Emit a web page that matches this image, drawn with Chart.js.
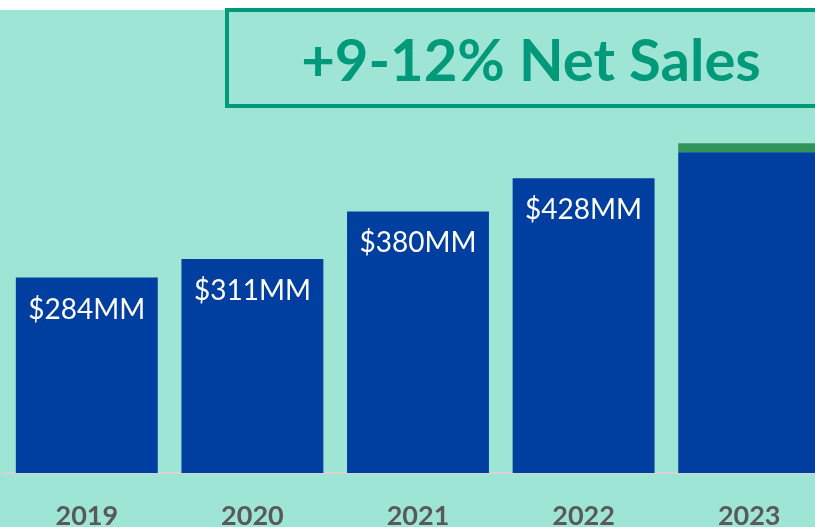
<!DOCTYPE html>
<html>
<head>
<meta charset="utf-8">
<script src="https://cdn.jsdelivr.net/npm/chart.js@4.4.1/dist/chart.umd.min.js"></script>
<style>
  html, body { margin: 0; padding: 0; background: #ffffff; overflow: hidden; width: 815px; height: 527px; }
  #wrap { position: absolute; left: 0; top: 10px; width: 840px; height: 550px; background: #9fe5d6; }
  #headline {
    position: absolute; left: 225px; top: 8px; width: 612px; height: 100px;
    box-sizing: border-box; border: 4px solid #00997a;
    display: flex; align-items: center; justify-content: center;
    font-family: Lato, "Open Sans", sans-serif; font-weight: bold; font-size: 58px;
    color: #00997a;
  }
</style>
</head>
<body>
<div id="wrap"><canvas id="salesChart" width="840" height="550"></canvas></div>
<div id="headline">+9-12% Net Sales</div>
<script>
  const years = ["2019", "2020", "2021", "2022", "2023"];
  const netSales = [284, 311, 380, 428, 466];
  const upside = [null, null, null, null, 13];
  const barLabels = ["$284MM", "$311MM", "$380MM", "$428MM", ""];

  const barText = {
    id: "barText",
    afterDatasetsDraw(chart) {
      const ctx = chart.ctx;
      const meta = chart.getDatasetMeta(0);
      ctx.save();
      ctx.fillStyle = "#ffffff";
      ctx.font = "28px Lato, 'Open Sans', sans-serif";
      ctx.textAlign = "center";
      ctx.textBaseline = "middle";
      meta.data.forEach(function (bar, i) {
        if (barLabels[i]) {
          ctx.fillText(barLabels[i], bar.x, bar.y + 32);
        }
      });
      ctx.restore();
    },
  };

  const ctx = document.getElementById("salesChart").getContext("2d");
  new Chart(ctx, {
    type: "bar",
    data: {
      labels: years,
      datasets: [
        {
          label: "Net Sales",
          data: netSales,
          backgroundColor: "#003f9f",
          barPercentage: 0.857,
          categoryPercentage: 1,
        },
        {
          label: "Upside",
          data: upside,
          backgroundColor: "#2e9459",
          barPercentage: 0.857,
          categoryPercentage: 1,
        },
      ],
    },
    options: {
      responsive: false,
      animation: false,
      layout: { padding: { left: 4, right: 8, top: 105, bottom: 27 } },
      plugins: {
        legend: { display: false },
        tooltip: { enabled: false },
      },
      scales: {
        x: {
          stacked: true,
          grid: { display: false },
          border: { display: true, color: "#d4d4d4", width: 2 },
          ticks: {
            padding: 19,
            color: "#595959",
            font: { family: "Lato, 'Open Sans', sans-serif", size: 27, weight: "bold" },
          },
          afterFit: function (scale) {
            scale.height = 60;
          },
        },
        y: {
          stacked: true,
          display: false,
          min: 0,
          max: 520,
        },
      },
    },
    plugins: [barText],
  });
</script>
</body>
</html>
